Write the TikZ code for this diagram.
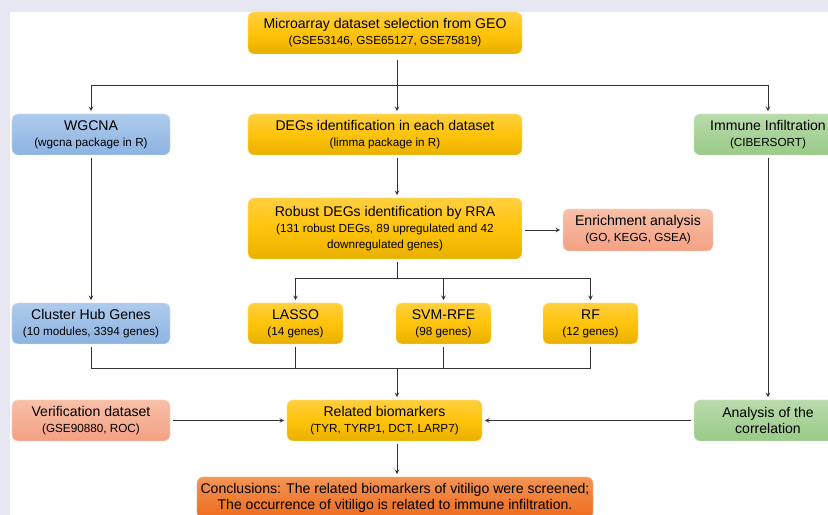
\documentclass[tikz,border=0pt]{standalone}
\usepackage{fontspec}
\setmainfont{Liberation Sans}
\usepackage{tikz}
\usetikzlibrary{arrows}

\definecolor{lav}{HTML}{E7E7F1}
\definecolor{yelA}{HTML}{FFD03F}
\definecolor{yelB}{HTML}{FFC30A}
\definecolor{yelC}{HTML}{E8B000}
\definecolor{bluA}{HTML}{AECBEC}
\definecolor{bluB}{HTML}{8DB3E1}
\definecolor{grnA}{HTML}{B9DBAC}
\definecolor{grnB}{HTML}{9ACA88}
\definecolor{salA}{HTML}{F8C0A8}
\definecolor{salB}{HTML}{F3A083}
\definecolor{orgA}{HTML}{F39455}
\definecolor{orgB}{HTML}{EE6A1C}

\newcommand{\ttl}[1]{{\fontsize{12}{14}\selectfont #1}}

\begin{document}
\begin{tikzpicture}[x=0.03cm, y=-0.03cm,
    box/.style = {rounded corners=5pt, align=center, text=black, outer sep=2.5pt,
                  inner sep=2pt, font=\fontsize{10}{13.6}\selectfont},
    yel/.style = {box, draw=yelA!50!white, top color=yelA, bottom color=yelC, middle color=yelB},
    blu/.style = {box, draw=bluA!50!white, top color=bluA, bottom color=bluB},
    grn/.style = {box, draw=grnA!50!white, top color=grnA, bottom color=grnB},
    sal/.style = {box, draw=salA!50!white, top color=salA, bottom color=salB},
    org/.style = {box, draw=orgA!50!white, top color=orgA, bottom color=orgB},
    line/.style = {line width=0.7pt, draw=black!80, >=stealth}]
            % Background
            \useasboundingbox (0,0) rectangle (828,515);
            \fill[lav] (0,0) rectangle (828,515);
            \fill[white] (10,12) rectangle (828,515);
            \clip (0,0) rectangle (828,515);

            % Nodes
            \node[yel, minimum width=8.22cm, minimum height=1.26cm] (geo) at (385,33)
                {\ttl{Microarray dataset selection from GEO}\\(GSE53146, GSE65127, GSE75819)};
            \node[blu, minimum width=4.74cm, minimum height=1.23cm] (wgcna) at (91,134.5)
                {\ttl{WGCNA}\\(wgcna package in R)};
            \node[yel, minimum width=8.22cm, minimum height=1.23cm] (degs) at (385,134.5)
                {\ttl{DEGs identification in each dataset}\\(limma package in R)};
            \node[grn, minimum width=4.44cm, minimum height=1.23cm] (immune) at (768,134.5)
                {\ttl{Immune Infiltration}\\(CIBERSORT)};
            \node[yel, minimum width=8.22cm, minimum height=1.83cm] (robust) at (385,228.5)
                {\ttl{Robust DEGs identification by RRA}\\(131 robust DEGs, 89 upregulated and 42\\downregulated genes)};
            \node[sal, minimum width=4.5cm, minimum height=1.26cm] (enrich) at (638,230)
                {\ttl{Enrichment analysis}\\(GO, KEGG, GSEA)};
            \node[blu, minimum width=4.74cm, minimum height=1.23cm] (cluster) at (91,323.5)
                {\ttl{Cluster Hub Genes}\\(10 modules, 3394 genes)};
            \node[yel, minimum width=2.85cm, minimum height=1.23cm] (lasso) at (295.5,323.5)
                {\ttl{LASSO}\\(14 genes)};
            \node[yel, minimum width=2.85cm, minimum height=1.23cm] (svm) at (443.5,323.5)
                {\ttl{SVM-RFE}\\(98 genes)};
            \node[yel, minimum width=2.85cm, minimum height=1.23cm] (rf) at (590.5,323.5)
                {\ttl{RF}\\(12 genes)};
            \node[sal, minimum width=4.74cm, minimum height=1.23cm] (verif) at (91,420.5)
                {\ttl{Verification dataset}\\(GSE90880, ROC)};
            \node[yel, minimum width=5.85cm, minimum height=1.23cm] (related) at (384.5,420.5)
                {\ttl{Related biomarkers}\\(TYR, TYRP1, DCT, LARP7)};
            \node[grn, minimum width=4.44cm, minimum height=1.23cm] (analysis) at (768,420.5)
                {\ttl{Analysis of the}\\\ttl{correlation}};
            \node[org, minimum width=11.88cm, minimum height=1.26cm] (concl) at (395,498)
                {\ttl{Conclusions: The related biomarkers of vitiligo were screened;}\\
                 \ttl{The occurrence of vitiligo is related to immune infiltration.}};

            % Junctions
            \coordinate (j1) at (397,85);
            \coordinate (j2) at (397,278);
            \coordinate (j3) at (397,368);

            % Lines
            \draw[line] ([yshift=-3pt]geo.south -| j1) -- (j1);
            \draw[line, ->] (j1) -| (wgcna);
            \draw[line, ->] (j1) -| (immune);
            \draw[line, ->] (j1) -- (degs.north -| j1);
            \draw[line, ->] (degs.south -| j1) -- (robust.north -| j1);
            \draw[line, ->] (robust.east |- enrich) -- (enrich);
            \draw[line] (robust.south -| j2) -- (j2);
            \draw[line, ->] (j2) -| (lasso);
            \draw[line, ->] (j2) -| (rf);
            \draw[line, ->] (j2 -| svm) -- (svm);
            \draw[line, ->] (wgcna) -- (cluster);
            \draw[line] (cluster) |- (rf |- j3) -- (rf);
            \draw[line] (lasso) -- (lasso |- j3);
            \draw[line] (svm) -- (svm |- j3);
            \draw[line, ->] (j3) -- (related.north -| j3);
            \draw[line, ->] (immune) -- (analysis);
            \draw[line, ->] (verif) -- (related);
            \draw[line, ->] (analysis) -- (related);
            \draw[line, ->] (related.south -| j3) -- (concl.north -| j3);
        \end{tikzpicture}
\end{document}
